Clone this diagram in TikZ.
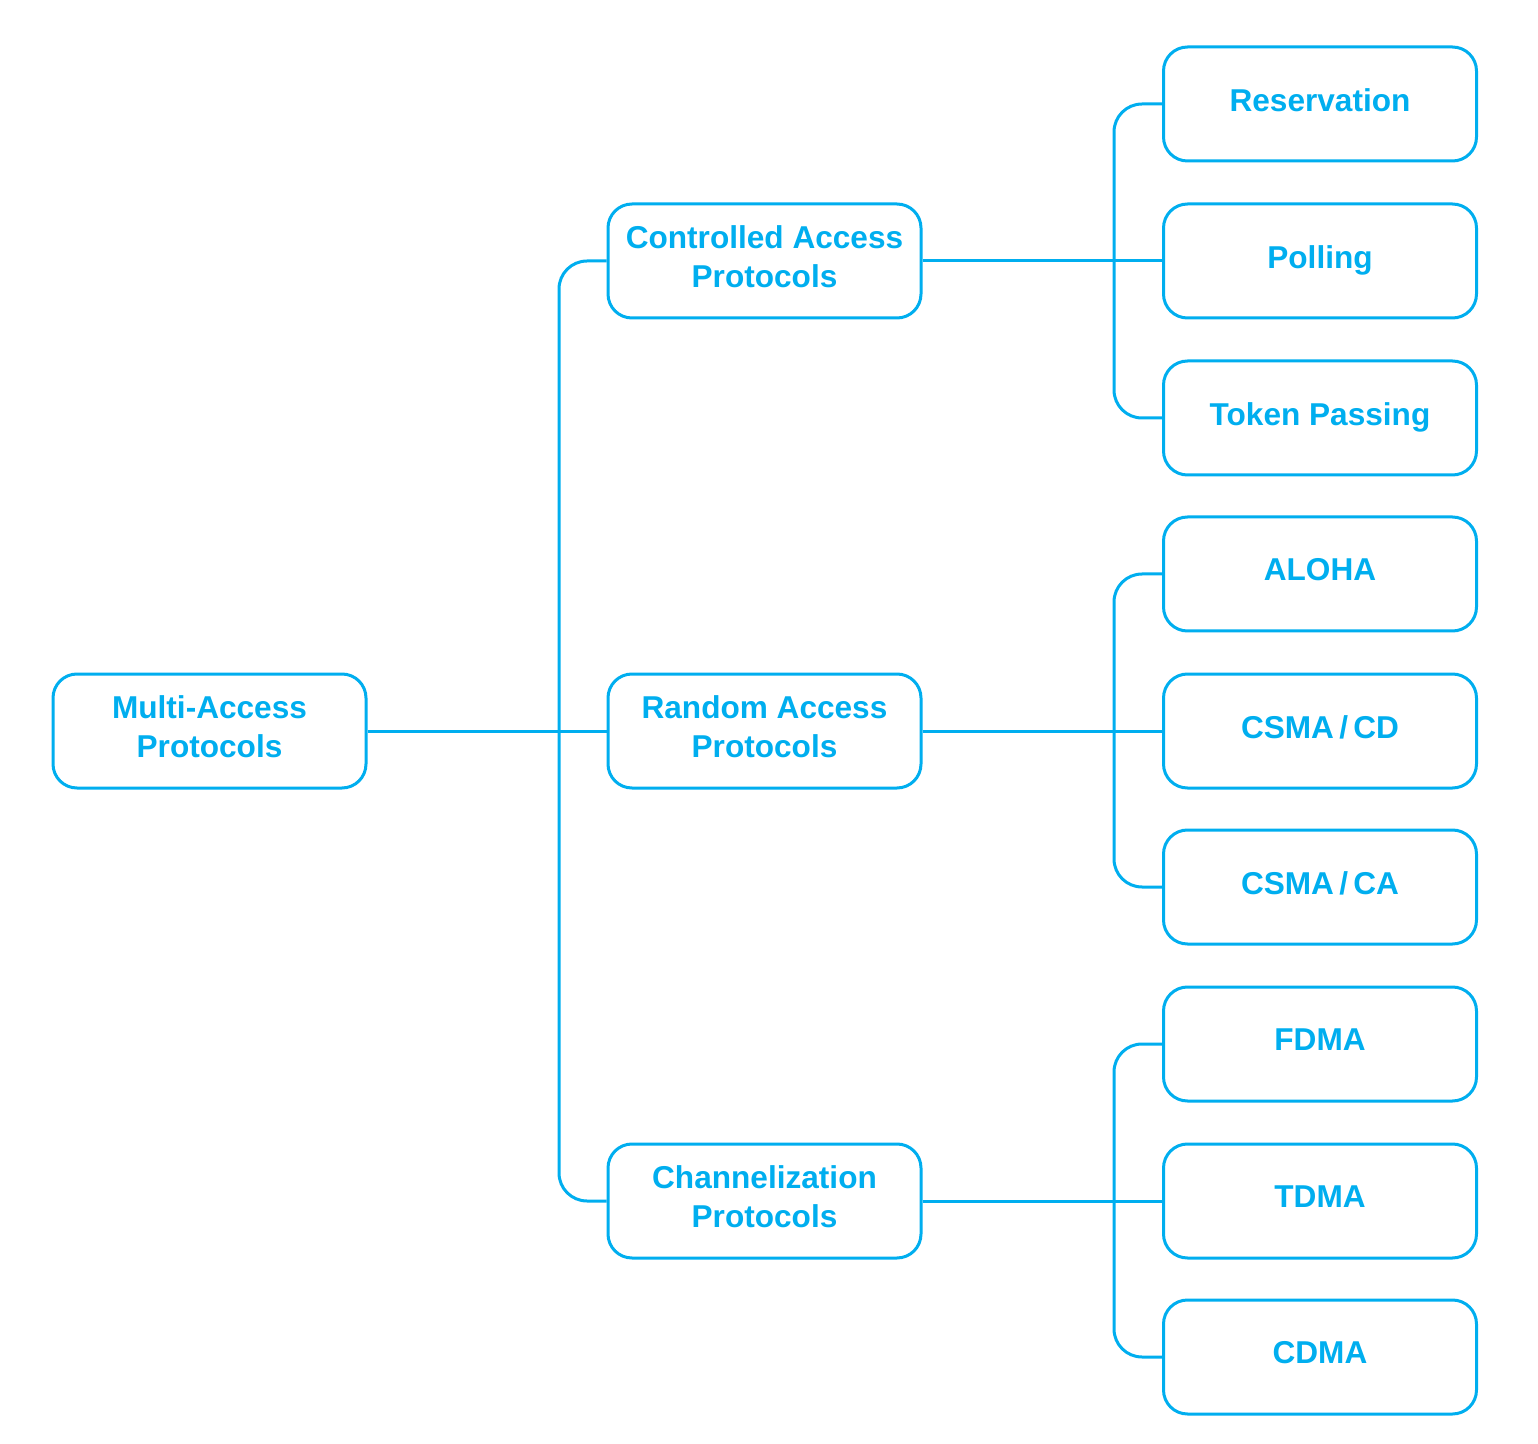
\documentclass[tikz,border=0pt]{standalone}
\usepackage{fontspec}
\setmainfont{Liberation Sans}
\definecolor{netblue}{RGB}{0,174,239}
\begin{document}
\begin{tikzpicture}[x=0.5pt,y=-0.5pt,
  box/.style={draw=netblue, line width=1.5pt, rounded corners=12pt,
    minimum width=156.5pt, minimum height=57pt, inner sep=0pt},
  lbl/.style={text=netblue, font=\fontsize{15.8}{19.5}\selectfont\bfseries,
    align=center, text depth=0pt, inner sep=0pt},
  wire/.style={draw=netblue, line width=1.5pt},
  bus/.style={wire, rounded corners=14pt}]
\useasboundingbox (0,0) rectangle (1538,1444);

% boxes
\node[box] (root) at (209.5,731) {};
\node[box] (ctrl) at (764.5,261) {};
\node[box] (rand) at (764.5,731) {};
\node[box] (chan) at (764.5,1201) {};

\node[box] (resv)  at (1320,104) {};
\node[box] (poll)  at (1320,261) {};
\node[box] (token) at (1320,418) {};
\node[box] (aloha) at (1320,574) {};
\node[box] (cd)    at (1320,731) {};
\node[box] (ca)    at (1320,887) {};
\node[box] (fdma)  at (1320,1044) {};
\node[box] (tdma)  at (1320,1201) {};
\node[box] (cdma)  at (1320,1357) {};

% labels
\node[lbl] (t-root)  at ([yshift=2.2pt]root.center)  {Multi-Access\\Protocols};
\node[lbl] (t-ctrl)  at ([yshift=2.2pt]ctrl.center)  {Controlled Access\\Protocols};
\node[lbl] (t-rand)  at ([yshift=2.2pt]rand.center)  {Random Access\\Protocols};
\node[lbl] (t-chan)  at ([yshift=2.2pt]chan.center)  {Channelization\\Protocols};
\node[lbl] (t-resv)  at ([yshift=2.2pt]resv.center)  {Reservation};
\node[lbl] (t-poll)  at ([yshift=2.2pt]poll.center)  {Polling};
\node[lbl] (t-token) at ([yshift=2.2pt]token.center) {Token Passing};
\node[lbl] (t-aloha) at ([yshift=2.2pt]aloha.center) {ALOHA};
\node[lbl] (t-cd)    at ([yshift=2.2pt]cd.center)    {CSMA\,/\,CD};
\node[lbl] (t-ca)    at ([yshift=2.2pt]ca.center)    {CSMA\,/\,CA};
\node[lbl] (t-fdma)  at ([yshift=2.2pt]fdma.center)  {FDMA};
\node[lbl] (t-tdma)  at ([yshift=2.2pt]tdma.center)  {TDMA};
\node[lbl] (t-cdma)  at ([yshift=2.2pt]cdma.center)  {CDMA};

% bus points
\coordinate (busA) at (559,731);
\coordinate (busB) at (1114,261);
\coordinate (busC) at (1114,731);
\coordinate (busD) at (1114,1201);

% connectors
\draw[wire] (root.east) -- (rand.west);
\draw[bus] (ctrl.west) -| (busA) |- (chan.west);

\draw[wire] (ctrl.east) -- (poll.west);
\draw[bus] (resv.west) -| (busB) |- (token.west);

\draw[wire] (rand.east) -- (cd.west);
\draw[bus] (aloha.west) -| (busC) |- (ca.west);

\draw[wire] (chan.east) -- (tdma.west);
\draw[bus] (fdma.west) -| (busD) |- (cdma.west);
\end{tikzpicture}
\end{document}
